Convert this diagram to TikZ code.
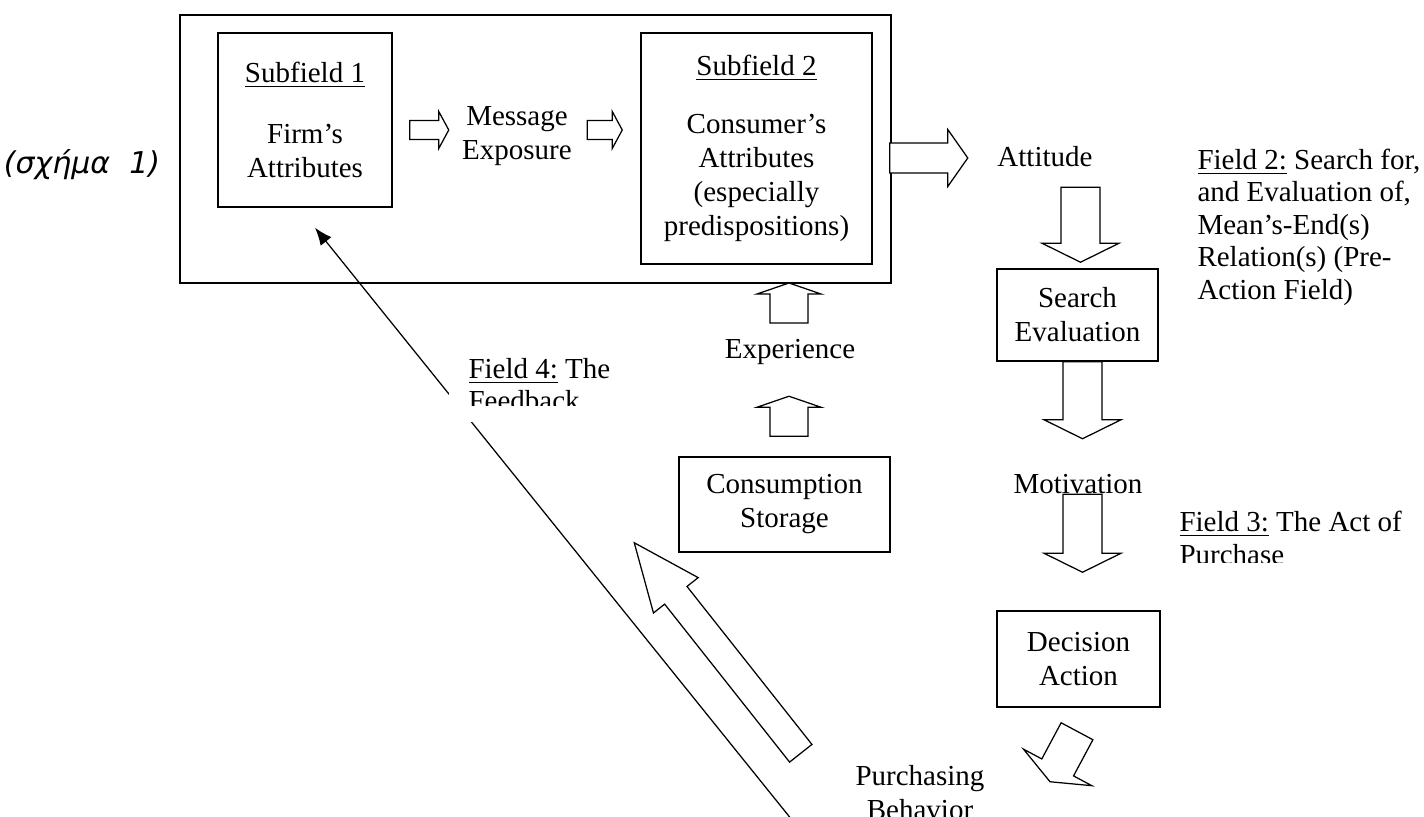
\documentclass[tikz,border=0pt]{standalone}
\usepackage{fontspec}
\setmainfont{Liberation Serif}
\newfontfamily\greekfont{DejaVu Sans}
\usetikzlibrary{calc,arrows.meta}
\newcommand{\tikzBlockArrow}[5]{
  \coordinate (ba-s) at (#1);
  \coordinate (ba-e) at (#2);
  \coordinate (ba-h) at ($(ba-e)!#5!(ba-s)$);
  \draw[blockarrow] ($(ba-s)!#3!90:(ba-e)$) -- ($(ba-h)!#3!90:(ba-e)$) -- ($(ba-h)!#4!90:(ba-e)$)
    -- (ba-e) -- ($(ba-h)!#4!-90:(ba-e)$) -- ($(ba-h)!#3!-90:(ba-e)$) -- ($(ba-s)!#3!-90:(ba-e)$) -- cycle;
}
\tikzset{
  fieldbox/.style={draw, line width=0.6pt, inner sep=0pt, align=center},
  labeltext/.style={align=center, inner sep=1pt},
  fieldtext/.style={align=left, inner sep=0pt, font=\fontsize{11.6}{13}\selectfont},
  blockarrow/.style={draw, line width=0.5pt, fill=white},
}
\begin{document}
\begin{tikzpicture}[x=0.4pt, y=-0.4pt, font=\fontsize{11.6}{13.6}\selectfont, line join=miter]
  \useasboundingbox (0,0) rectangle (1424,817);

  \node [inner sep=0pt] (fig) at (82,165) {\greekfont\itshape\fontsize{12}{14}\selectfont (σχήμα~~1)};

  %field 1 and its subfields
  \node [fieldbox, minimum width=284.4pt, minimum height=107.2pt] (field1) at (535.5,149) {};
  \node [fieldbox, minimum width=69.6pt, minimum height=69.6pt] (sub1) at (305,120)
    {\underline{Subfield 1}\\[11pt] Firm’s\\ Attributes};
  \node [fieldbox, minimum width=92.4pt, minimum height=92.4pt] (sub2) at (756.5,148.5)
    {\underline{Subfield 2}\\[9.6pt] Consumer’s\\ Attributes\\ (especially\\ predispositions)};
  \node [labeltext] (msg) at (517,136) {Message\\ Exposure};
  \tikzBlockArrow{$(sub1.east)+(17,10)$}{$(sub1.east)+(56,10)$}{3.8pt}{7.4pt}{4pt}
  \tikzBlockArrow{$(sub2.west)+(-53,-18.5)$}{$(sub2.west)+(-18,-18.5)$}{3.8pt}{7.4pt}{4pt}

  %pre-action chain
  \node [labeltext] (att) at (1045,157) {Attitude};
  \node [fieldbox, minimum width=64.4pt, minimum height=36.8pt] (search) at (1077.5,315) {Search\\ Evaluation};
  \node [labeltext] (motiv) at (1078,484) {Motivation};
  \node [fieldbox, minimum width=65.2pt, minimum height=38.4pt] (decision) at (1078.5,659) {Decision\\ Action};
  \node [labeltext] (purch) at (920,793) {Purchasing\\ Behavior};
  \tikzBlockArrow{$(field1.east)+(-2,9)$}{$(field1.east)+(76,9)$}{6pt}{11.4pt}{8pt}
  \tikzBlockArrow{$(search.north)+(3,-81)$}{$(search.north)+(3,-6)$}{7.8pt}{15.4pt}{7.6pt}
  \tikzBlockArrow{$(search.south)+(5,0)$}{$(search.south)+(5,77)$}{7.8pt}{15.4pt}{7.6pt}
  \tikzBlockArrow{$(decision.north)+(4,-116)$}{$(decision.north)+(4,-38)$}{7.8pt}{15.4pt}{7.6pt}
  \tikzBlockArrow{$(decision.south)+(-1.5,23.5)$}{$(decision.south)+(-28.5,74)$}{7.2pt}{15.5pt}{6.5pt}

  %consumption and experience
  \node [fieldbox, minimum width=84.4pt, minimum height=38pt] (cons) at (784.5,504.5) {Consumption\\ Storage};
  \node [labeltext] (exper) at (790,352) {Experience};
  \tikzBlockArrow{$(exper)+(-1,-29)$}{$(exper)+(-1,-69)$}{7.6pt}{12.8pt}{4.4pt}
  \tikzBlockArrow{$(cons.north)+(4.5,-20)$}{$(cons.north)+(4.5,-60)$}{7.6pt}{12.8pt}{4.4pt}
  \tikzBlockArrow{$(cons.south west)+(122.5,200.5)$}{$(cons.south west)+(-44,-10)$}{5.7pt}{11.4pt}{26.8pt}

  %feedback
  \coordinate (fbfrom) at (792,820);
  \coordinate (fbto) at ($(sub1.south)+(10,20)$);
  \draw [line width=0.5pt, -{Latex[length=7pt,width=5.5pt]}] (fbfrom) -- (fbto);

  %field labels
  \node [fieldtext, fill=white, anchor=north west, inner xsep=8pt, minimum height=29.6pt] (f4) at (448,347)
    {\underline{Field 4:} The\\ Feedback};
  \fill [white] ($(f4.south west)+(0,-16)$) rectangle (f4.south east);
  \node [fieldtext, anchor=west] (f2) at (1197,227)
    {\underline{Field 2:} Search for,\\ and Evaluation of,\\ Mean’s-End(s)\\ Relation(s) (Pre-\\ Action Field)};
  \node [fieldtext, anchor=west] (f3) at (1179,538) {\underline{Field 3:} The Act of\\ Purchase};
  \fill [white] ($(f3.west)+(-4,25)$) rectangle ($(f3.east)+(4,45)$);
\end{tikzpicture}
\end{document}
